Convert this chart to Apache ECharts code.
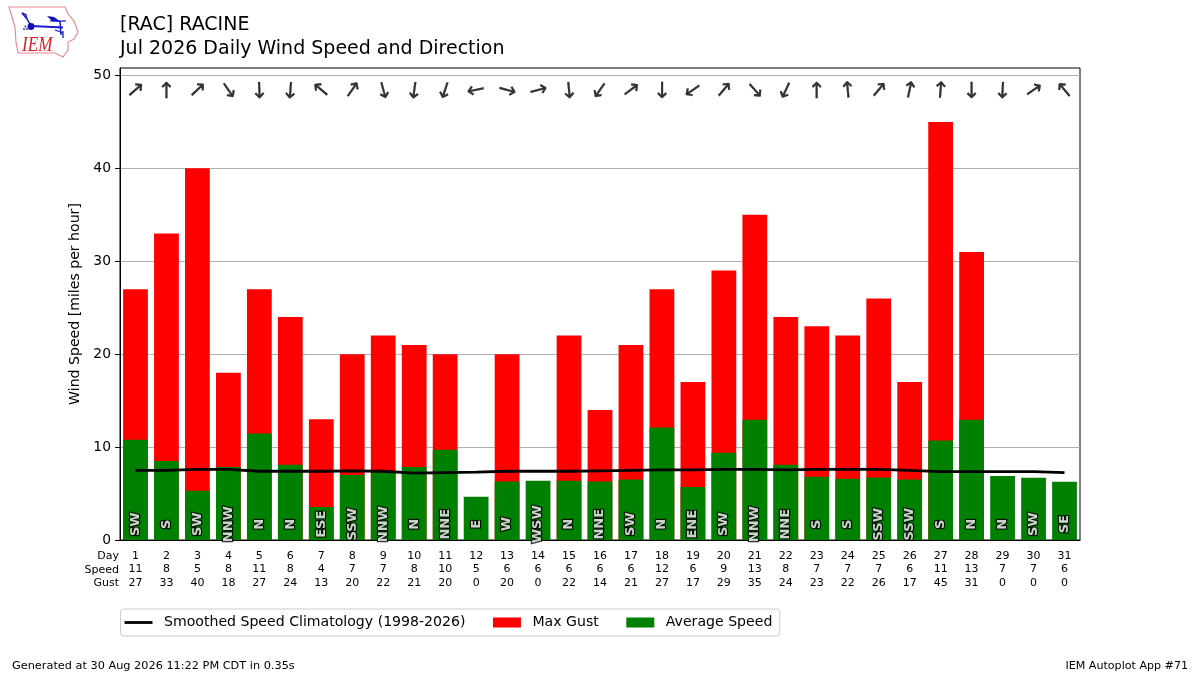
<!DOCTYPE html>
<html><head><meta charset="utf-8">
<style>html,body{margin:0;padding:0;background:#fff}#c{width:1200px;height:675px}</style>
<script src="https://cdn.jsdelivr.net/npm/echarts@6/dist/echarts.min.js"></script>
</head><body><div id="c"></div>
<script>
const days = [1,2,3,4,5,6,7,8,9,10,11,12,13,14,15,16,17,18,19,20,21,22,23,24,25,26,27,28,29,30,31];
const speedLabels = [11,8,5,8,11,8,4,7,7,8,10,5,6,6,6,6,6,12,6,9,13,8,7,7,7,6,11,13,7,7,6];
const maxGust = [27,33,40,18,27,24,13,20,22,21,20,0,20,0,22,14,21,27,17,29,35,24,23,22,26,17,45,31,0,0,0];
const avgSpeed = [10.8,8.5,5.3,7.85,11.45,8.1,3.55,7.0,7.3,7.85,9.7,4.65,6.3,6.37,6.37,6.3,6.5,12.1,5.7,9.4,12.95,8.1,6.8,6.6,6.73,6.5,10.7,12.95,6.9,6.7,6.26];
const climatology = [7.5,7.5,7.6,7.6,7.4,7.4,7.4,7.45,7.4,7.2,7.25,7.3,7.4,7.4,7.4,7.45,7.5,7.55,7.55,7.6,7.6,7.55,7.6,7.6,7.6,7.5,7.35,7.35,7.35,7.35,7.25];
const dirNames = ['SW','S','SW','NNW','N','N','ESE','SSW','NNW','N','NNE','E','W','WSW','N','NNE','SW','N','ENE','SW','NNW','NNE','S','S','SSW','SSW','S','N','N','SW','SE'];
const arrowHeading = [49,0,47,145,178,185,310,35,165,188,198,258,105,75,175,215,53,180,235,40,138,205,0,355,40,12,5,180,183,55,320];
const yTicks = [0,10,20,30,40,50];
const FONT = '"DejaVu Sans"';
const chart = echarts.init(document.getElementById('c'), null, {renderer:'canvas'});
const iowa = [[9,7],[65,7],[68,14],[74,21],[78,32],[74,39],[68,42],[68,50],[63,57],[55,53],[18,53],[16,42],[15,27],[12,17]];
function logo(){
  const blue='#1a1ad0', dark='#1010b0';
  const line=(pts,w)=>({type:'polyline',shape:{points:pts},style:{stroke:blue,lineWidth:w,fill:null}});
  return [
    {type:'polygon',shape:{points:iowa},style:{fill:'#fff',stroke:'#ec8a92',lineWidth:1.2}},
    line([[31,26],[63,27.5]],2),
    line([[31,26],[27,19],[22,13]],1.5),
    line([[22,13],[26,15]],1.5),
    line([[27,19],[26,14]],1),
    {type:'circle',shape:{cx:31,cy:26.5,r:3.4},style:{fill:dark}},
    {type:'polygon',shape:{points:[[47,16],[54,17],[61,22],[52,21]]},style:{fill:dark}},
    line([[50,21],[66,21]],1.2),
    line([[60,21],[61,35]],1.5),
    line([[55,30],[63,33]],1.3),
    line([[63,31],[63,38]],1.3),
    {type:'circle',shape:{cx:24,cy:29,r:0.9},style:{fill:blue}},
    {type:'circle',shape:{cx:27,cy:29,r:0.9},style:{fill:blue}},
    {type:'circle',shape:{cx:25.5,cy:26.5,r:0.9},style:{fill:blue}},
    {type:'text',x:22,y:36,scaleX:0.95,scaleY:1.12,style:{x:0,y:0,text:'IEM',font:'italic 18px "Liberation Serif"',fill:'#d8202a'}}
  ];
}
const graphics = [
  ...logo(),
  {type:'text',style:{x:120,y:15.5,text:'[RAC] RACINE',font:'19px '+FONT,fill:'#000'}},
  {type:'text',style:{x:120,y:39.5,text:'Jul 2026 Daily Wind Speed and Direction',font:'19px '+FONT,fill:'#000'}},
  {type:'text',style:{x:119,y:551,text:'Day',align:'right',font:'11px '+FONT,fill:'#000'}},
  {type:'text',style:{x:119,y:565,text:'Speed',align:'right',font:'11px '+FONT,fill:'#000'}},
  {type:'text',style:{x:119,y:578,text:'Gust',align:'right',font:'11px '+FONT,fill:'#000'}},
  {type:'text',style:{x:12,y:661,text:'Generated at 30 Aug 2026 11:22 PM CDT in 0.35s',font:'11.3px '+FONT,fill:'#000'}},
  {type:'text',style:{x:1188,y:661,text:'IEM Autoplot App #71',align:'right',font:'11.1px '+FONT,fill:'#000'}}
];
chart.setOption({
  animation:false,
  backgroundColor:'#fff',
  textStyle:{fontFamily:FONT},
  grid:{left:120,right:120,top:68,bottom:135,show:true,borderColor:'#000',borderWidth:1,backgroundColor:'transparent'},
  legend:{
    left:120.5,top:609,orient:'horizontal',
    data:[{name:'Smoothed Speed Climatology (1998-2026)',icon:'path://M0 0H280V28H0Z'},{name:'Max Gust',icon:'rect'},{name:'Average Speed',icon:'rect'}],
    itemWidth:28,itemHeight:10,itemGap:27.5,
    padding:[6.5,7.5,6.5,4],
    borderColor:'#ccc',borderWidth:1,borderRadius:3,
    textStyle:{fontFamily:FONT,fontSize:14.1,color:'#000',padding:[0,0,0,6.5]}
  },
  xAxis:{
    type:'category',data:days,boundaryGap:true,
    axisLine:{lineStyle:{color:'#000',width:1}},
    axisTick:{alignWithLabel:true,length:5,lineStyle:{color:'#000'}},
    splitLine:{show:false},
    axisLabel:{
      interval:0,margin:9,fontFamily:FONT,fontSize:11,color:'#000',lineHeight:13.7,
      formatter:(v,i)=>v+'\n'+speedLabels[i]+'\n'+maxGust[i]
    }
  },
  yAxis:{
    type:'value',min:0,max:50.8,interval:10,
    name:'Wind Speed [miles per hour]',nameLocation:'middle',nameGap:30,
    nameTextStyle:{fontFamily:FONT,fontSize:14.1,color:'#000'},
    axisLine:{show:true,lineStyle:{color:'#000',width:1}},
    axisTick:{show:true,length:5,lineStyle:{color:'#000'},customValues:yTicks},
    splitLine:{show:true,lineStyle:{color:'#b0b0b0',width:1}},
    axisLabel:{fontFamily:FONT,fontSize:13.9,color:'#000',margin:9,padding:[2,0,0,0],formatter:v=>(v%10===0?String(v):''),showMaxLabel:false}
  },
  series:[
    {name:'Max Gust',type:'bar',data:maxGust,barWidth:'80%',barGap:'-100%',itemStyle:{color:'#ff0000'},z:2},
    {name:'Average Speed',type:'bar',data:avgSpeed,barWidth:'80%',barGap:'-100%',itemStyle:{color:'#008000'},z:3},
    {name:'Smoothed Speed Climatology (1998-2026)',type:'line',data:climatology,showSymbol:false,symbol:'none',smooth:false,
      lineStyle:{color:'#000',width:2.8},itemStyle:{color:'#000'},z:4},
    {name:'dir',type:'scatter',symbolSize:1,itemStyle:{color:'transparent'},z:5,silent:true,
      data:dirNames.map((d,i)=>({value:[i,1.7],name:d,
        label:{show:true,position:'inside',formatter:d,rotate:90,fontFamily:FONT,fontSize:13,fontWeight:'bold',color:'#fff',
          textBorderColor:'#000',textBorderWidth:2.4,align:'center',verticalAlign:'middle'}}))},
    {name:'arrow',type:'scatter',symbolSize:1,itemStyle:{color:'transparent'},z:5,silent:true,
      data:arrowHeading.map((a,i)=>({value:[i,48.45],
        label:{show:true,position:'inside',formatter:'↑',rotate:-a,offset:[0,2],fontFamily:FONT,fontSize:22,color:'#000',
          textBorderColor:'#000',textBorderWidth:0.35,align:'center',verticalAlign:'middle'}}))}
  ],
  graphic:graphics
});
</script></body></html>
